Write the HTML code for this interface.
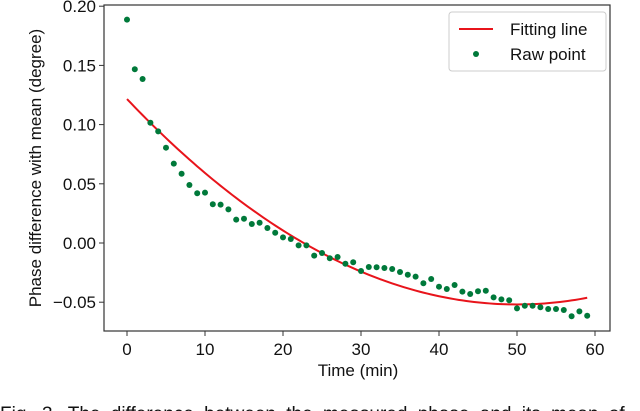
<!DOCTYPE html>
<html><head><meta charset="utf-8"><style>
html,body{margin:0;padding:0;background:#fff;overflow:hidden;width:640px;height:411px}
svg{display:block;font-family:"Liberation Sans",Arial,sans-serif}
</style></head><body>
<svg id="chart" width="640" height="411" viewBox="0 0 640 411" xmlns="http://www.w3.org/2000/svg">
<g id="plot"></g>
<text x="358" y="376" font-size="17" text-anchor="middle" fill="#111">Time (min)</text>
<text transform="translate(41,168) rotate(-90)" font-size="17" text-anchor="middle" fill="#111">Phase difference with mean (degree)</text>
<g>
<rect x="449" y="12" width="157" height="59" rx="3" fill="#fff" stroke="#ccc" stroke-width="1"/>
<g>
<line x1="459" y1="29" x2="493" y2="29" stroke="#e8141b" stroke-width="2"/>
<text x="510" y="35" font-size="17" fill="#111">Fitting line</text></g>
<g>
<circle cx="476" cy="54" r="3" fill="#00793a"/>
<text x="510" y="60" font-size="17" fill="#111">Raw point</text></g>
</g>
<text x="0" y="420" font-size="19" word-spacing="5" fill="#111">Fig. 3.  The difference between the measured phase and its mean of</text>
</svg>
<script>
const xTicks=[0,10,20,30,40,50,60];
const yTicks=[-0.05,0.00,0.05,0.10,0.15,0.20];
const yTickLabels=["\u22120.05","0.00","0.05","0.10","0.15","0.20"];
const times=[0,1,2,3,4,5,6,7,8,9,10,11,12,13,14,15,16,17,18,19,20,21,22,23,24,25,26,27,28,29,30,31,32,33,34,35,36,37,38,39,40,41,42,43,44,45,46,47,48,49,50,51,52,53,54,55,56,57,58,59];
const rawValues=[0.1887,0.1467,0.1385,0.1016,0.0943,0.0805,0.067,0.0585,0.049,0.042,0.0425,0.0327,0.0324,0.0284,0.0197,0.0205,0.016,0.0171,0.0127,0.0087,0.0048,0.0034,-0.002,-0.002,-0.0107,-0.0084,-0.0129,-0.0118,-0.0175,-0.0163,-0.0236,-0.0203,-0.0205,-0.0211,-0.022,-0.0245,-0.0268,-0.0284,-0.034,-0.0304,-0.0369,-0.0389,-0.0355,-0.0411,-0.0431,-0.0408,-0.0403,-0.0459,-0.0476,-0.0484,-0.0552,-0.053,-0.053,-0.0543,-0.0557,-0.0557,-0.0566,-0.0619,-0.0577,-0.0614];
const fitCoef=[0.1216,-0.00694,0.0000694];
const fitRange=[0,59];

const L=104,R=610,T=5,B=331;
const sx=t=>127+(t-0)*(595-127)/60;
const sy=v=>243-v*1184;
const NS="http://www.w3.org/2000/svg";
const g=document.getElementById('plot');
function mk(tag,attrs){const e=document.createElementNS(NS,tag);for(const k in attrs)e.setAttribute(k,attrs[k]);return e;}

xTicks.forEach(t=>{
 const ln=mk('line',{x1:sx(t),x2:sx(t),y1:B,y2:B+5,stroke:'#333','stroke-width':1});
 
 
 g.appendChild(ln);
 const tx=mk('text',{x:sx(t),y:B+24,'font-size':17,'text-anchor':'middle',fill:'#111'});
 tx.textContent=t;
 
 
 g.appendChild(tx);
});
yTicks.forEach((v,i)=>{
 const ln=mk('line',{x1:L-5,x2:L,y1:sy(v),y2:sy(v),stroke:'#333','stroke-width':1});
 
 
 g.appendChild(ln);
 const tx=mk('text',{x:L-8,y:sy(v)+6,'font-size':17,'text-anchor':'end',fill:'#111'});
 tx.textContent=yTickLabels[i];
 
 
 g.appendChild(tx);
});
let d='';
for(let t=fitRange[0];t<=fitRange[1]+1e-9;t+=0.5){const v=fitCoef[0]+fitCoef[1]*t+fitCoef[2]*t*t;d+=(d?'L':'M')+sx(t).toFixed(2)+','+sy(v).toFixed(2);}
const fit=mk('path',{d:d,fill:'none',stroke:'#e8141b','stroke-width':2});


g.appendChild(fit);
times.forEach((t,i)=>{
 const c=mk('circle',{cx:sx(t),cy:sy(rawValues[i]),r:3,fill:'#00793a'});
 
 
 g.appendChild(c);
});
const fr=mk('rect',{x:L,y:T,width:R-L,height:B-T,fill:'none',stroke:'#333','stroke-width':1.2});


g.appendChild(fr);
</script>
</body></html>
